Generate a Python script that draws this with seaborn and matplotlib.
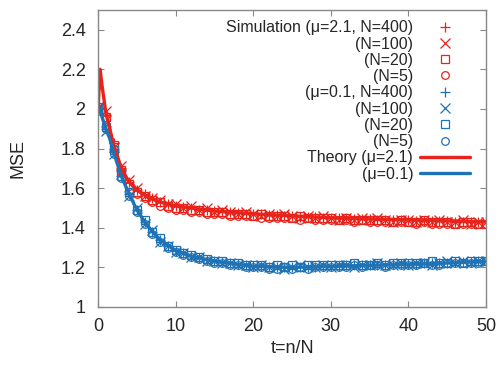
import numpy as np
import pandas as pd
import matplotlib
matplotlib.use("Agg")
import matplotlib.pyplot as plt
import seaborn as sns

# ---------------- data ----------------
t_sim = list(range(0, 51))

red_n400 = [2.00,1.97,1.83,1.70,1.63,1.59,1.57,1.55,1.53,1.52,1.51,1.505,1.50,1.49,1.49,1.485,1.48,1.48,1.475,1.47,
            1.47,1.47,1.465,1.465,1.46,1.46,1.455,1.455,1.455,1.45,1.45,1.45,1.45,1.445,1.445,1.445,1.44,1.44,1.44,1.44,
            1.44,1.435,1.435,1.435,1.435,1.435,1.43,1.43,1.43,1.43,1.43]
red_n100 = [2.01,1.99,1.81,1.71,1.64,1.60,1.56,1.55,1.54,1.52,1.52,1.50,1.51,1.49,1.50,1.48,1.49,1.48,1.47,1.48,
            1.47,1.46,1.47,1.46,1.47,1.46,1.45,1.46,1.45,1.46,1.45,1.44,1.45,1.44,1.45,1.44,1.45,1.44,1.43,1.44,
            1.44,1.43,1.44,1.43,1.44,1.43,1.43,1.44,1.42,1.43,1.43]
red_n20 = [2.00,1.96,1.82,1.69,1.62,1.58,1.56,1.54,1.53,1.51,1.50,1.50,1.49,1.49,1.48,1.48,1.48,1.47,1.47,1.47,
           1.46,1.47,1.46,1.46,1.46,1.45,1.46,1.45,1.45,1.45,1.45,1.44,1.45,1.44,1.44,1.44,1.44,1.44,1.43,1.44,
           1.43,1.43,1.44,1.43,1.43,1.43,1.42,1.43,1.43,1.42,1.42]
red_n5 = [2.00,1.95,1.80,1.68,1.61,1.57,1.55,1.53,1.51,1.50,1.49,1.49,1.48,1.48,1.47,1.47,1.47,1.46,1.46,1.46,
          1.46,1.45,1.45,1.45,1.45,1.45,1.44,1.45,1.44,1.44,1.44,1.44,1.44,1.43,1.44,1.43,1.43,1.43,1.43,1.43,
          1.43,1.42,1.43,1.42,1.42,1.42,1.42,1.42,1.42,1.42,1.42]

blue_n400 = [2.00,1.90,1.78,1.66,1.57,1.49,1.43,1.38,1.34,1.31,1.285,1.27,1.255,1.245,1.235,1.23,1.225,1.22,1.215,1.21,
             1.205,1.205,1.20,1.20,1.20,1.20,1.20,1.20,1.20,1.205,1.205,1.205,1.21,1.21,1.21,1.21,1.21,1.21,1.215,1.215,
             1.215,1.215,1.22,1.22,1.22,1.22,1.225,1.225,1.225,1.23,1.23]
blue_n100 = [2.00,1.89,1.77,1.67,1.56,1.50,1.42,1.39,1.33,1.31,1.28,1.27,1.25,1.25,1.23,1.23,1.22,1.22,1.21,1.21,
             1.20,1.21,1.20,1.20,1.19,1.20,1.21,1.20,1.20,1.21,1.20,1.21,1.21,1.20,1.21,1.21,1.22,1.21,1.21,1.22,
             1.21,1.22,1.22,1.21,1.22,1.23,1.22,1.23,1.22,1.23,1.23]
blue_n20 = [2.01,1.91,1.79,1.66,1.58,1.49,1.44,1.38,1.35,1.31,1.29,1.27,1.26,1.25,1.24,1.23,1.23,1.22,1.22,1.21,
            1.21,1.21,1.20,1.21,1.20,1.21,1.20,1.21,1.21,1.21,1.21,1.21,1.21,1.22,1.21,1.21,1.22,1.21,1.22,1.22,
            1.22,1.22,1.22,1.23,1.22,1.22,1.23,1.22,1.23,1.23,1.23]
blue_n5 = [1.99,1.90,1.77,1.65,1.56,1.48,1.42,1.37,1.33,1.30,1.28,1.26,1.25,1.24,1.23,1.22,1.22,1.21,1.21,1.20,
           1.20,1.20,1.19,1.19,1.20,1.19,1.20,1.19,1.20,1.20,1.20,1.20,1.20,1.21,1.20,1.21,1.21,1.20,1.21,1.21,
           1.21,1.21,1.22,1.21,1.21,1.22,1.22,1.22,1.22,1.22,1.23]

t_red_theory = [0, 0.25, 0.5, 1, 1.5, 2, 2.5, 3, 4, 5, 6, 7, 8, 10, 12, 15, 20, 25, 30, 35, 40, 45, 50]
red_theory = [2.00, 2.20, 2.12, 1.98, 1.90, 1.82, 1.76, 1.70, 1.63, 1.59, 1.565, 1.545, 1.53, 1.51, 1.50,
              1.485, 1.47, 1.46, 1.45, 1.445, 1.44, 1.435, 1.43]
t_blue_theory = [0, 0.25, 0.5, 1, 1.5, 2, 2.5, 3, 4, 5, 6, 7, 8, 10, 12, 15, 18, 20, 25, 30, 35, 40, 45, 50]
blue_theory = [2.00, 1.99, 1.96, 1.90, 1.85, 1.78, 1.72, 1.66, 1.57, 1.49, 1.43, 1.38, 1.34, 1.285, 1.255,
               1.23, 1.215, 1.205, 1.20, 1.205, 1.21, 1.215, 1.222, 1.23]

x_ticks = [0, 10, 20, 30, 40, 50]
y_ticks = [1, 1.2, 1.4, 1.6, 1.8, 2, 2.2, 2.4]

RED = "#e8231b"
BLUE = "#1f72b4"

# ---------------- plot ----------------
sns.set_style("ticks")
plt.rcParams["font.family"] = ["Liberation Sans", "DejaVu Sans"]

fig = plt.figure(figsize=(4.98, 3.65), dpi=100)
ax = fig.add_axes([0.197, 0.159, 0.779, 0.814])

sims = [
    (red_n400, RED, "+", "Simulation (\u03bc=2.1, N=400)"),
    (red_n100, RED, "x", "(N=100)"),
    (red_n20, RED, "s", "(N=20)"),
    (red_n5, RED, "o", "(N=5)"),
    (blue_n400, BLUE, "+", "(\u03bc=0.1, N=400)"),
    (blue_n100, BLUE, "x", "(N=100)"),
    (blue_n20, BLUE, "s", "(N=20)"),
    (blue_n5, BLUE, "o", "(N=5)"),
]
for vals, col, mk, lab in sims:
    df = pd.DataFrame({"t": t_sim, "mse": vals})
    kw = dict(marker=mk, linestyle="", color=col, markersize=6.5 if mk in "+x" else 5.5,
              markeredgewidth=0.9, label=lab)
    if mk in "so":
        kw.update(markerfacecolor="none", markeredgecolor=col)
    else:
        kw.update(markeredgecolor=col)
    sns.lineplot(data=df, x="t", y="mse", ax=ax, **kw)

sns.lineplot(x=t_red_theory, y=red_theory, ax=ax, color=RED, linewidth=2.4,
             label="Theory (\u03bc=2.1)")
sns.lineplot(x=t_blue_theory, y=blue_theory, ax=ax, color=BLUE, linewidth=2.4,
             label="(\u03bc=0.1)")

ax.set_xlim(0, 50)
ax.set_ylim(1, 2.5)
ax.set_xticks(x_ticks)
ax.set_yticks(y_ticks)
ax.set_yticklabels([f"{v:g}" for v in y_ticks])
ax.set_xlabel("t=n/N", fontsize=13)
ax.set_ylabel("MSE", fontsize=13)
ax.xaxis.set_label_coords(0.5, -0.14)
ax.yaxis.set_label_coords(-0.206, 0.5)
ax.xaxis.label.set_va("center")
ax.yaxis.label.set_va("center")
ax.tick_params(direction="in", top=True, right=True, length=4, color="#888888",
               labelsize=13)
ax.tick_params(axis="y", pad=9)
ax.tick_params(axis="x", pad=8)
for s in ax.spines.values():
    s.set_color("#888888")
    s.set_linewidth(1.0)

leg = ax.legend(loc="upper right", frameon=False, markerfirst=False, fontsize=11.5,
                handlelength=3.1, handletextpad=0.45, labelspacing=0.08,
                borderaxespad=0.25, bbox_to_anchor=(0.985, 1.0))
for txt in leg.get_texts():
    txt.set_ha("right")
leg._legend_box.align = "right"

fig.savefig("out.png", dpi=100)
